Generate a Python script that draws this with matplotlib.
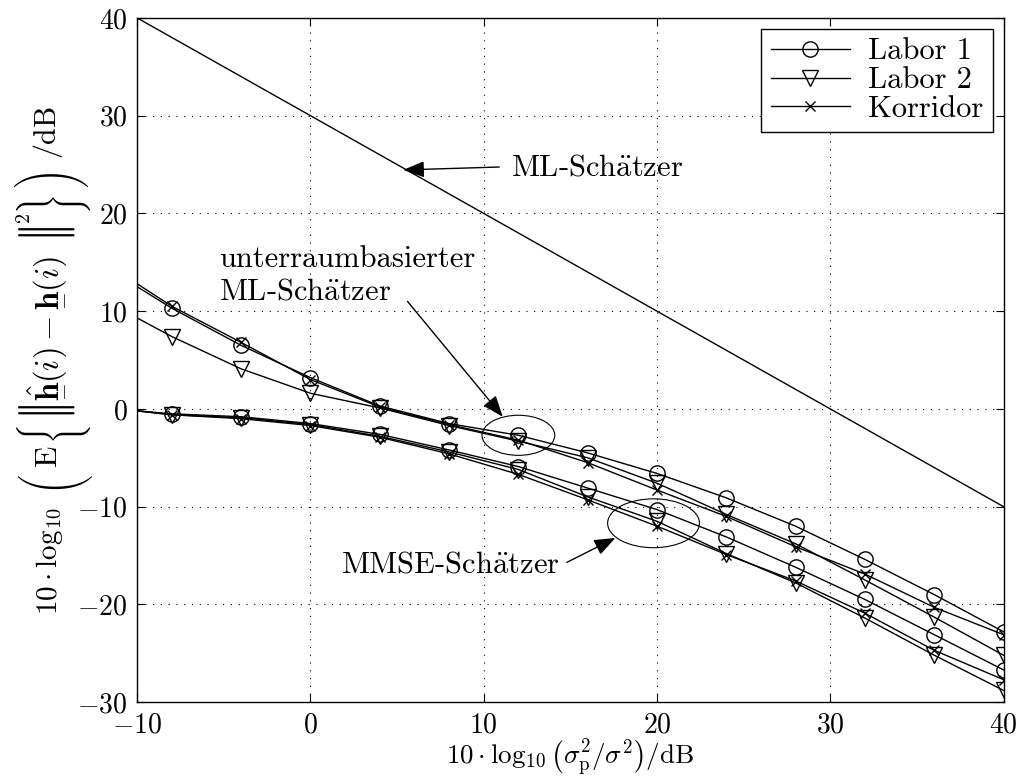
import numpy as np
import matplotlib
matplotlib.use('Agg')
import matplotlib.pyplot as plt
from matplotlib.patches import Ellipse

plt.rcParams['font.family'] = 'serif'
plt.rcParams['font.serif'] = ['cmr10']
plt.rcParams['mathtext.fontset'] = 'cm'
plt.rcParams['axes.formatter.use_mathtext'] = True
plt.rcParams['axes.unicode_minus'] = True

# SNR in dB (erster Punkt ohne Marker)
snr = [-10, -8, -4, 0, 4, 8, 12, 16, 20, 24, 28, 32, 36, 40]

# unterraumbasierter ML-Schätzer
sub_labor1 = [12.5, 10.3, 6.5, 3.2, 0.3, -1.5, -2.7, -4.5, -6.6, -9.1, -12.0, -15.4, -19.0, -22.8]
sub_labor2 = [9.3, 7.4, 4.1, 1.6, 0.1, -1.7, -3.3, -5.0, -7.6, -10.8, -13.8, -17.5, -21.3, -25.2]
sub_korridor = [12.8, 10.5, 6.8, 3.0, 0.2, -1.6, -3.2, -5.5, -8.3, -11.0, -14.1, -16.9, -20.3, -23.1]

# MMSE-Schätzer
mmse_labor1 = [-0.2, -0.5, -0.8, -1.5, -2.6, -4.2, -5.9, -8.1, -10.3, -13.1, -16.2, -19.5, -23.1, -26.7]
mmse_labor2 = [-0.2, -0.6, -0.9, -1.6, -2.8, -4.4, -6.2, -9.0, -11.5, -14.8, -17.8, -21.4, -25.2, -28.8]
mmse_korridor = [-0.2, -0.6, -1.0, -1.7, -2.9, -4.6, -6.7, -9.3, -12.0, -14.9, -17.6, -20.9, -24.7, -27.7]

# ML-Schätzer
ml_snr = [-10, 40]
ml_err = [40, -10]

W, H = 1024, 781
fig = plt.figure(figsize=(W / 100, H / 100), dpi=100)
ax = fig.add_axes([0.134, 0.101, 0.846, 0.876])

lw = 1.0
style = dict(color='black', lw=lw, markevery=slice(1, None))
circ = dict(marker='o', ms=11, mfc='none', mew=lw)
tri = dict(marker='v', ms=12, mfc='none', mew=lw)
cross = dict(marker='x', ms=7.5, mew=lw)

ax.plot(ml_snr, ml_err, color='black', lw=lw)

ax.plot(snr, sub_labor1, label='Labor 1', **circ, **style)
ax.plot(snr, sub_labor2, label='Labor 2', **tri, **style)
ax.plot(snr, sub_korridor, label='Korridor', **cross, **style)

ax.plot(snr, mmse_labor1, **circ, **style)
ax.plot(snr, mmse_labor2, **tri, **style)
ax.plot(snr, mmse_korridor, **cross, **style)

ax.set_xlim(-10, 40)
ax.set_ylim(-30, 40)
ax.set_xticks(np.arange(-10, 41, 10))
ax.set_yticks(np.arange(-30, 41, 10))
ax.tick_params(direction='in', top=True, right=True, labelsize=20, length=6, width=0.8)
ax.tick_params(axis='x', pad=7)
ax.tick_params(axis='y', pad=7)
ax.grid(True, linestyle=(0, (1, 6)), color='black', lw=0.8)
for s in ax.spines.values():
    s.set_linewidth(1.0)

ax.set_xlabel(r'$10\cdot\log_{10}\left(\sigma_{\mathrm{p}}^2/\sigma^2\right)/\mathrm{dB}$', fontsize=19.5, labelpad=0)


# y-Beschriftung stückweise, damit die großen Klammern passen
def ylab(s, yc, xb, size, family=None, va='baseline'):
    kw = dict(family=family) if family else {}
    fig.text(xb / W, 1 - yc / H, s, rotation=90, rotation_mode='anchor',
             ha='center', va=va, fontsize=size, **kw)


big = 18
norm = r'$\vert\hspace{-0.18}\vert$'
ylab(r'$10\cdot\log_{10}$', 561, 57, 21)
ylab('\xc3', 479, 50, big, family='cmex10', va='center')
ylab(r'$\mathrm{E}$', 457, 57, 22.5)
ylab('\x28', 430, 50, big, family='cmex10', va='center')
ylab(norm, 412, 47, 40, va='center')
ylab(r'$\hat{\underset{-}{\mathbf{h}}}(i)-\underset{-}{\mathbf{h}}(i)$', 328, 56, 23.5)
ylab(norm, 234, 47, 40, va='center')
ylab(r'$2$', 218, 30, 14.5)
ylab('\x29', 200, 50, big, family='cmex10', va='center')
ylab('\x21', 177, 50, big, family='cmex10', va='center')
ylab(r'$/\mathrm{dB}$', 132, 56, 21.5)

# Beschriftungen mit Pfeilen
fs = 22
arrow = dict(arrowstyle='-|>,head_length=0.65,head_width=0.25', color='black', lw=1.0,
             mutation_scale=20, shrinkA=0, shrinkB=0)

ax.text(11.6, 23.85, r'ML-Sch$\ddot{\mathrm{a}}$tzer', fontsize=fs, ha='left', va='baseline')
ax.annotate('', xy=(5.35, 24.45), xytext=(10.9, 24.75), arrowprops=arrow)

ax.text(-5.3, 11.15, 'unterraumbasierter\n' + r'ML-Sch$\ddot{\mathrm{a}}$tzer', fontsize=fs,
        ha='left', va='baseline', linespacing=1.25)
ax.annotate('', xy=(11.1, -0.8), xytext=(5.6, 11.0), arrowprops=arrow)
ax.add_patch(Ellipse((12.0, -2.7), 4.2, 4.1, fill=False, color='black', lw=0.8))

ax.text(14.4, -16.7, r'MMSE-Sch$\ddot{\mathrm{a}}$tzer', fontsize=fs, ha='right', va='baseline')
ax.annotate('', xy=(17.6, -13.2), xytext=(14.8, -15.7), arrowprops=arrow)
ax.add_patch(Ellipse((19.8, -11.7), 5.3, 5.0, fill=False, color='black', lw=0.8))

leg = ax.legend(loc='upper right', fontsize=22, fancybox=False, edgecolor='black', framealpha=1,
                handlelength=2.6, borderaxespad=0.35, borderpad=0.3, labelspacing=0.05,
                handletextpad=0.6)
leg.get_frame().set_linewidth(1.0)

fig.savefig('out.png', dpi=100)
